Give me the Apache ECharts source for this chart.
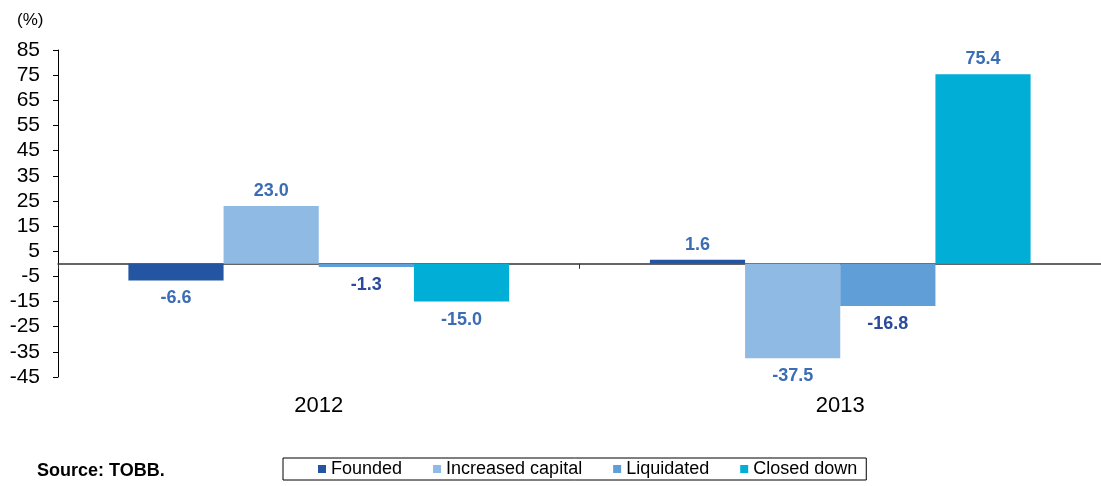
<!DOCTYPE html>
<html>
<head>
<meta charset="utf-8">
<script src="https://cdn.jsdelivr.net/npm/echarts@6/dist/echarts.min.js"></script>
<style>
html,body{margin:0;padding:0;background:#fff;}
#chart{width:1101px;height:486px;}
</style>
</head>
<body>
<div id="chart"></div>
<script>
const categories = ['2012', '2013'];
const seriesNames = ['Founded', 'Increased capital', 'Liquidated', 'Closed down'];
const founded = [-6.6, 1.6];
const increasedCapital = [23.0, -37.5];
const liquidated = [-1.3, -16.8];
const closedDown = [-15.0, 75.4];
const yTicks = { min: -45, max: 85, interval: 10 };

const values = [founded, increasedCapital, liquidated, closedDown];
const colors = ['#2355a3', '#8fbae3', '#5f9ed6', '#00aed6'];
const labelColors = ['#3b6db4', '#3b6db4', '#2b4a9c', '#3b6db4'];
const FONT = 'Liberation Sans, Arial, Helvetica, sans-serif';

const chart = echarts.init(document.getElementById('chart'));
chart.setOption({
  animation: false,
  textStyle: { fontFamily: FONT },
  grid: { left: 58, right: 0, top: 50, bottom: 109, containLabel: false },
  graphic: [
    { type: 'text', left: 17, top: 12, style: { text: '(%)', font: '17px ' + FONT, fill: '#000' } },
    { type: 'text', left: 37, top: 462, style: { text: 'Source: TOBB.', font: 'bold 18px ' + FONT, fill: '#000' } }
  ],
  legend: {
    data: seriesNames,
    left: 283, top: 458,
    padding: [2, 9, 2, 35],
    borderColor: '#000', borderWidth: 1,
    itemGap: 31,
    icon: 'rect', itemWidth: 8, itemHeight: 8,
    textStyle: { fontSize: 18, color: '#000', fontFamily: FONT }
  },
  xAxis: [
    {
      type: 'category', data: categories, position: 'bottom',
      axisLine: { show: false, onZero: false }, axisTick: { show: false },
      axisLabel: { fontSize: 22, color: '#000', margin: 18, fontFamily: FONT }
    },
    {
      type: 'category', data: categories, position: 'bottom',
      axisLine: { show: true, onZero: true, lineStyle: { color: '#333', width: 1.5 } },
      axisTick: { show: true, length: 5, lineStyle: { color: '#333' } },
      axisLabel: { show: false }
    }
  ],
  yAxis: {
    type: 'value', min: yTicks.min, max: yTicks.max, interval: yTicks.interval,
    splitLine: { show: false },
    axisLine: { show: true, lineStyle: { color: '#000', width: 1 } },
    axisTick: { show: true, length: 5, lineStyle: { color: '#000' } },
    axisLabel: { fontSize: 21, color: '#000', margin: 18, fontFamily: FONT }
  },
  series: values.map((arr, i) => ({
    name: seriesNames[i],
    type: 'bar',
    xAxisIndex: 0,
    barGap: '0%',
    barCategoryGap: '27%',
    itemStyle: { color: colors[i] },
    data: arr.map(v => ({
      value: v,
      label: {
        show: true,
        position: v < 0 ? 'bottom' : 'top',
        distance: v < 0 ? 9 : 6,
        formatter: p => p.value.toFixed(1),
        color: labelColors[i],
        fontWeight: 'bold',
        fontSize: 18,
        fontFamily: FONT
      }
    }))
  }))
});
</script>
</body>
</html>
